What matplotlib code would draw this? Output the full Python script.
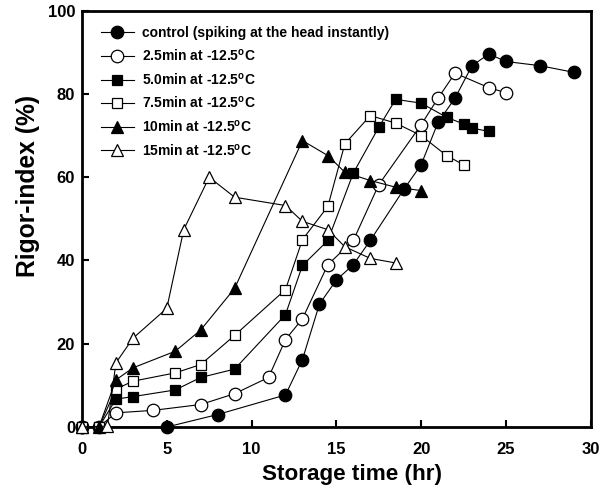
import matplotlib
matplotlib.use("Agg")
import matplotlib.pyplot as plt
from matplotlib import font_manager

plt.rcParams['font.family'] = ['Liberation Sans', 'DejaVu Sans']
plt.rcParams['font.weight'] = 'bold'
plt.rcParams['mathtext.fontset'] = 'custom'
plt.rcParams['mathtext.rm'] = 'Liberation Sans:bold'
plt.rcParams['mathtext.bf'] = 'Liberation Sans:bold'
plt.rcParams['mathtext.default'] = 'rm'

# data
ctrl_x = [0, 5, 8, 12, 13, 14, 15, 16, 17, 19, 20, 21, 22, 23, 24, 25, 27, 29]
ctrl_y = [0, 0, 3, 7.7, 16.2, 29.5, 35.3, 39, 44.8, 57.2, 63, 73.2, 79, 86.8, 89.6, 87.8, 86.8, 85.2]

m25_x = [0, 1, 2, 4.2, 7, 9, 11, 12, 13, 14.5, 16, 17.5, 20, 21, 22, 24, 25]
m25_y = [0, 0, 3.4, 4, 5.4, 8, 11.9, 21, 26, 39, 44.8, 58.2, 72.6, 79, 85, 81.5, 80.3]

m50_x = [0, 1, 2, 3, 5.5, 7, 9, 12, 13, 14.5, 16, 17.5, 18.5, 20, 21.5, 22.5, 23, 24]
m50_y = [0, 0, 6.7, 7.3, 8.9, 11.9, 13.9, 27, 38.8, 44.8, 61, 72, 78.7, 77.8, 74.4, 72.8, 71.8, 71]

m75_x = [0, 1, 2, 3, 5.5, 7, 9, 12, 13, 14.5, 15.5, 17, 18.5, 20, 21.5, 22.5]
m75_y = [0, 0, 9.1, 11, 13, 15, 22, 33, 45, 53, 68, 74.8, 73, 70, 65.2, 63]

m10_x = [0, 1, 2, 3, 5.5, 7, 9, 13, 14.5, 15.5, 17, 18.5, 20]
m10_y = [0, 0, 11.3, 14.2, 18.2, 23.3, 33.3, 68.8, 65.2, 61.2, 59.2, 57.6, 56.8]

m15_x = [0, 1.5, 2, 3, 5, 6, 7.5, 9, 12, 13, 14.5, 15.5, 17, 18.5]
m15_y = [0, 0.2, 15.4, 21.3, 28.5, 47.4, 60, 55.2, 53.2, 49.4, 47.4, 43.3, 40.5, 39.4]

labels = ["control (spiking at the head instantly)",
          "2.5min at -12.5$^{o}$C",
          "5.0min at -12.5$^{o}$C",
          "7.5min at -12.5$^{o}$C",
          "10min at -12.5$^{o}$C",
          "15min at -12.5$^{o}$C"]

series = [(ctrl_x, ctrl_y, 'o', 'black', 9),
          (m25_x, m25_y, 'o', 'white', 9),
          (m50_x, m50_y, 's', 'black', 7.5),
          (m75_x, m75_y, 's', 'white', 7.5),
          (m10_x, m10_y, '^', 'black', 9),
          (m15_x, m15_y, '^', 'white', 9)]

# the x label in the original is a condensed face
names = {f.name for f in font_manager.fontManager.ttflist}
if 'Liberation Sans Narrow' in names:
    xlab_font = dict(family='Liberation Sans Narrow', size=19.5)
else:
    xlab_font = dict(family='Liberation Sans', size=16.2)

fig = plt.figure(figsize=(6.06, 4.96), dpi=100)
ax = fig.add_axes([82 / 606, 1 - 427 / 496, (590.7 - 82) / 606, (427 - 10.7) / 496])

for (x, y, m, fc, ms), lab in zip(series, labels):
    ax.plot(x, y, marker=m, color='black', mfc=fc, mec='black', ms=ms,
            lw=0.8, mew=0.9, label=lab, clip_on=False, zorder=3)

ax.set_xlim(0, 30)
ax.set_ylim(0, 100)
ax.set_xticks(range(0, 31, 5))
ax.set_yticks(range(0, 101, 20))
ax.tick_params(direction='in', length=5, width=1.5, labelsize=12)
ax.tick_params(axis='x', pad=11)
ax.tick_params(axis='y', pad=5)
for s in ax.spines.values():
    s.set_linewidth(2)

ax.set_xlabel("Storage time (hr)", fontweight='bold', **xlab_font)
ax.xaxis.set_label_coords(0.530, -0.089)
ax.set_ylabel("Rigor-index (%)", fontsize=17.7, fontweight='bold')
ax.yaxis.set_label_coords(-0.083, 0.579)

ax.legend(loc='upper left', bbox_to_anchor=(0.037, 0.963), frameon=False,
          handlelength=2.37, handletextpad=0.63, labelspacing=0.55,
          borderpad=0, borderaxespad=0, prop={'weight': 'bold', 'size': 10})

fig.savefig("out.png", dpi=100)
